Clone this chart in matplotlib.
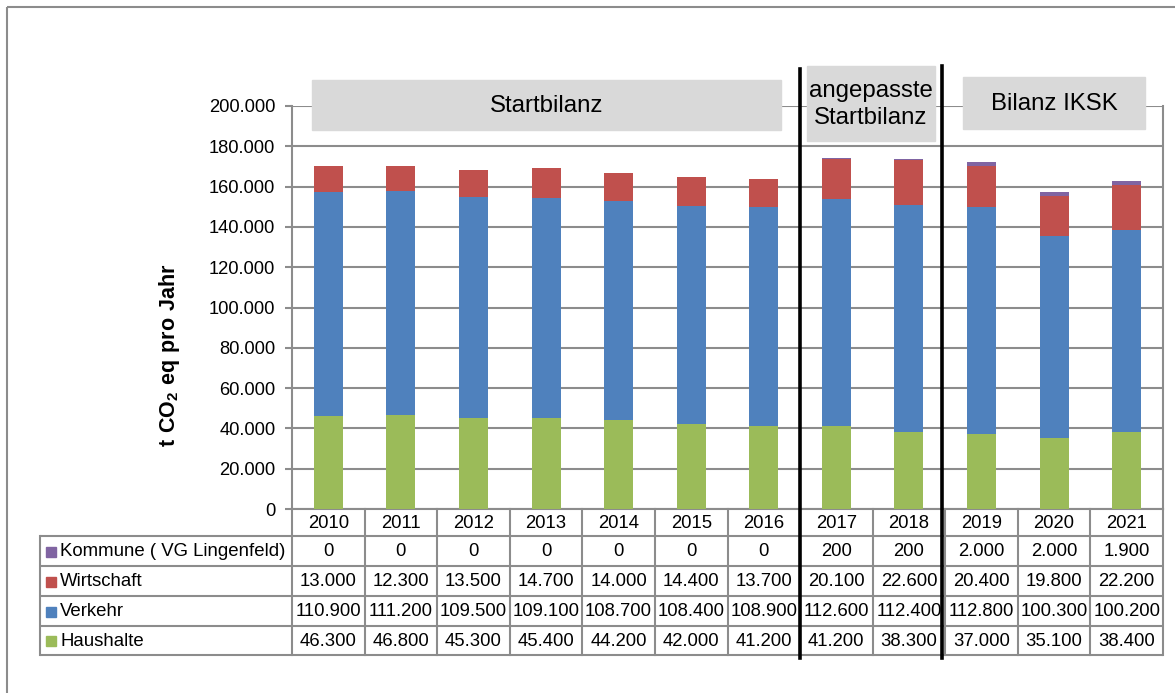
import matplotlib
matplotlib.use("Agg")
import matplotlib.pyplot as plt
from matplotlib.patches import Rectangle
from matplotlib import transforms
import numpy as np

plt.rcParams['font.family'] = ['Liberation Sans', 'DejaVu Sans']
plt.rcParams['mathtext.fontset'] = 'custom'
plt.rcParams['mathtext.rm'] = 'Liberation Sans'
plt.rcParams['mathtext.bf'] = 'Liberation Sans:bold'

years = ['2010', '2011', '2012', '2013', '2014', '2015', '2016',
         '2017', '2018', '2019', '2020', '2021']
haushalte = [46300, 46800, 45300, 45400, 44200, 42000, 41200, 41200, 38300, 37000, 35100, 38400]
verkehr = [110900, 111200, 109500, 109100, 108700, 108400, 108900, 112600, 112400, 112800, 100300, 100200]
wirtschaft = [13000, 12300, 13500, 14700, 14000, 14400, 13700, 20100, 22600, 20400, 19800, 22200]
kommune = [0, 0, 0, 0, 0, 0, 0, 200, 200, 2000, 2000, 1900]

series_names = ['Haushalte', 'Verkehr', 'Wirtschaft', 'Kommune ( VG Lingenfeld)']
series_vals = [haushalte, verkehr, wirtschaft, kommune]
colors = ['#9BBB59', '#4F81BD', '#C0504D', '#8064A2']

section_labels = ['Startbilanz', 'angepasste\nStartbilanz', 'Bilanz IKSK']

W, H = 1175, 693
fig = plt.figure(figsize=(W / 100, H / 100), dpi=100)

def fx(px):
    return px / W

def fy(py):
    return 1 - py / H

ax_left, ax_right, ax_top, ax_bot = 292, 1163, 106, 509
ax = fig.add_axes([fx(ax_left), fy(ax_bot), (ax_right - ax_left) / W, (ax_bot - ax_top) / H])

grid_c = '#8C8C8C'
x = np.arange(len(years))
bottom = np.zeros(len(years))
for vals, c in zip(series_vals, colors):
    ax.bar(x, vals, width=0.4, bottom=bottom, color=c, edgecolor='none', zorder=3)
    bottom += np.array(vals)

ax.set_xlim(-0.5, len(years) - 0.5)
ax.set_ylim(0, 200000)
ax.set_yticks(np.arange(0, 200001, 20000))
ax.set_yticklabels([f"{int(v):,}".replace(',', '.') for v in np.arange(0, 200001, 20000)])
ax.yaxis.grid(True, color=grid_c, linewidth=1.5, zorder=0)
ax.set_axisbelow(True)
ax.set_xticks([])
ax.tick_params(axis='y', length=5, width=1.5, color=grid_c, pad=7, labelsize=13.2)
for s in ['top']:
    ax.spines[s].set_visible(False)
for s in ['left', 'right', 'bottom']:
    ax.spines[s].set_color(grid_c)
    ax.spines[s].set_linewidth(1.5)

# overlay in pixel coordinates
ov = fig.add_axes([0, 0, 1, 1], zorder=5)
ov.set_xlim(0, W)
ov.set_ylim(H, 0)
ov.axis('off')
ov.patch.set_visible(False)

blend = transforms.blended_transform_factory(ax.transData, ov.transData)

# outer frame
ov.add_patch(Rectangle((7, 7), 1300, 800, fill=False, edgecolor=grid_c, linewidth=1.5, clip_on=False))

# y label
ov.text(170, 355, r'$\mathbf{t\ CO_2\ eq\ pro\ Jahr}$', rotation=90, ha='center', va='center', fontsize=15.5)

# table
row_lines = [536, 566, 596, 626, 655]
label_left = 40
for yy in row_lines:
    ov.plot([label_left, ax_right], [yy, yy], color=grid_c, linewidth=1.5, solid_capstyle='butt')
ov.plot([label_left, label_left], [row_lines[0], row_lines[-1]], color=grid_c, linewidth=1.5)
for b in np.arange(-0.5, len(years), 1.0):
    ov.plot([b, b], [ax_bot, row_lines[-1]], color=grid_c, linewidth=1.5, transform=blend)

for i, yr in enumerate(years):
    ov.text(i, (ax_bot + row_lines[0]) / 2 + 1, yr, ha='center', va='center', fontsize=13.3, transform=blend)

table_rows = list(zip(series_names, series_vals, colors))[::-1]
for r, (name, vals, c) in enumerate(table_rows):
    yc = (row_lines[r] + row_lines[r + 1]) / 2 + 1
    ov.add_patch(Rectangle((46, yc - 5.5), 10, 10, color=c))
    ov.text(60, yc, name, ha='left', va='center', fontsize=13.4)
    for i, v in enumerate(vals):
        ov.text(i, yc, f"{v:,}".replace(',', '.'), ha='center', va='center', fontsize=13.3, transform=blend)

# section separator lines
ov.plot([6.5, 6.5], [69, 658], color='black', linewidth=2.6, transform=blend)
ov.plot([8.455, 8.455], [66, 658], color='black', linewidth=2.6, transform=blend)

# section boxes
box_c = '#D9D9D9'
boxes = [(312, 80, 781, 130), (807, 66, 935, 141), (963, 77, 1145, 129)]
for (x0, y0, x1, y1), lab in zip(boxes, section_labels):
    ov.add_patch(Rectangle((x0, y0), x1 - x0, y1 - y0, color=box_c, zorder=2))
    ov.text((x0 + x1) / 2, (y0 + y1) / 2 + 1, lab, ha='center', va='center', fontsize=17.3,
            linespacing=1.25, zorder=3)

fig.savefig('out.png', dpi=100)
